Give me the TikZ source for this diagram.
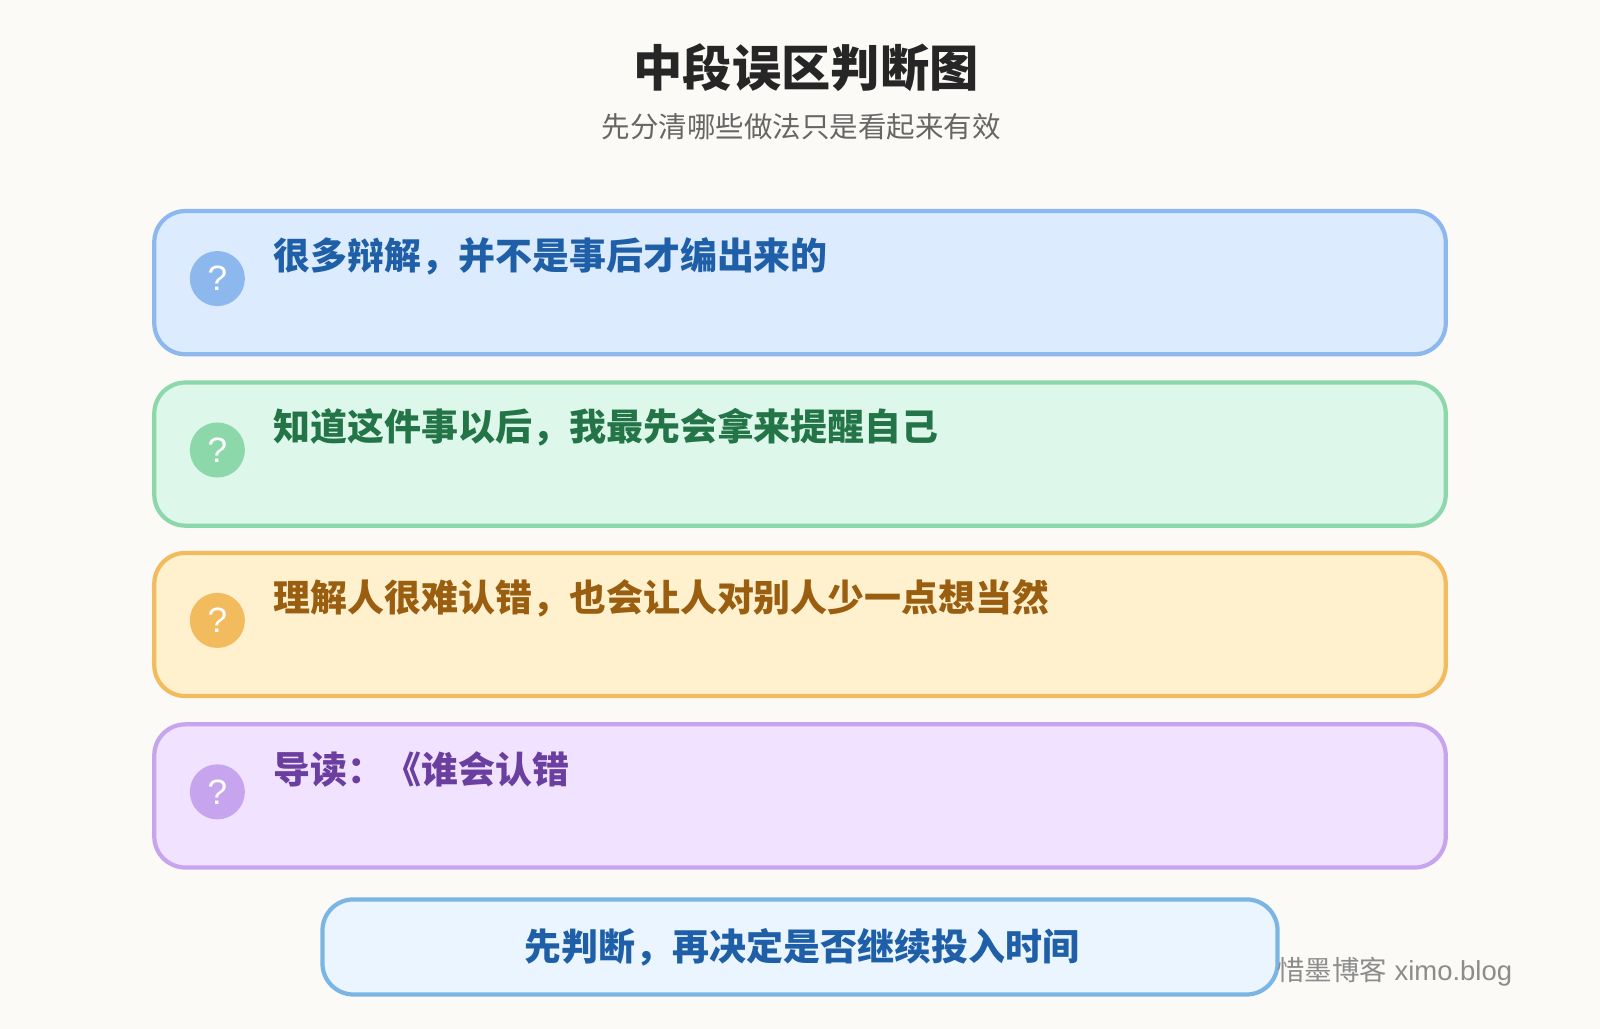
\documentclass[tikz,border=0pt]{standalone}
\usepackage{fontspec}
\usepackage{tikz}
\usetikzlibrary{positioning}
\newfontfamily\cjk{Noto Sans CJK SC}
\setmainfont{Liberation Sans}
\definecolor{bgc}{HTML}{FBFAF6}
\definecolor{blueF}{HTML}{DCEBFE}\definecolor{blueD}{HTML}{8DB8EE}\definecolor{blueT}{HTML}{1F5FA8}
\definecolor{greenF}{HTML}{DDF7EA}\definecolor{greenD}{HTML}{8DD8AB}\definecolor{greenT}{HTML}{237446}
\definecolor{orangeF}{HTML}{FFF0CE}\definecolor{orangeD}{HTML}{F2BB5E}\definecolor{orangeT}{HTML}{9A5E10}
\definecolor{purpleF}{HTML}{F1E2FF}\definecolor{purpleD}{HTML}{C6A5EE}\definecolor{purpleT}{HTML}{6A3FA0}
\definecolor{tipF}{HTML}{EAF5FF}\definecolor{tipD}{HTML}{7AB5E3}
\begin{document}
\begin{tikzpicture}[x=0.0102cm,y=-0.0102cm,
    card/.style={rectangle, rounded corners=0.31cm, line width=1.2pt, minimum width=12.9cm, minimum height=1.43cm},
    qmark/.style={circle, inner sep=0pt, minimum size=0.55cm, text=white, font=\fontsize{10}{12}\selectfont},
    label/.style={anchor=west, font=\cjk\bfseries\fontsize{10.5}{12}\selectfont}
]
    \useasboundingbox[fill=bgc] (0,0) rectangle (1568,1008.4);
    % 标题
    \node [font=\cjk\bfseries\fontsize{14}{16}\selectfont, text=black!85] (title) at (790,66) {中段误区判断图};
    \node [font=\cjk\fontsize{8.1}{10}\selectfont, text=black!60] (subtitle) at (785,124) {先分清哪些做法只是看起来有效};
    % 卡片
    \foreach \y/\c/\t [count=\i] in {277/blue/很多辩解，并不是事后才编出来的,
                                     445/green/知道这件事以后，我最先会拿来提醒自己,
                                     612/orange/理解人很难认错，也会让人对别人少一点想当然,
                                     780/purple/导读：《谁会认错}{
        \node [card, draw=\c D, fill=\c F] (card\i) at (784,\y) {};
        \node [qmark, fill=\c D] (q\i) at (213,\y-4) {?};
        \node [label, text=\c T] (t\i) at (256,\y-26) {\t};
    }
    % 底部提示
    \node [rectangle, rounded corners=0.31cm, line width=1.2pt, draw=tipD, fill=tipF,
           minimum width=9.54cm, minimum height=0.95cm] (tip) at (784,928) {};
    \node [font=\cjk\bfseries\fontsize{10.5}{12}\selectfont, text=blueT] (tiptext) at (786,928) {先判断，再决定是否继续投入时间};
    \node [anchor=east, font=\fontsize{7.8}{9}\selectfont, text=black!45] (mark) at (1494,952) {{\cjk 惜墨博客} ximo.blog};
\end{tikzpicture}
\end{document}
